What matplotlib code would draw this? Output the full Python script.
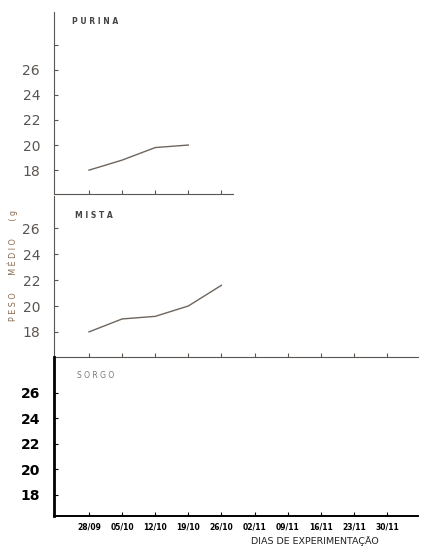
import matplotlib
matplotlib.use("Agg")
import matplotlib.pyplot as plt

dates = ["28/09", "05/10", "12/10", "19/10", "26/10", "02/11", "09/11", "16/11", "23/11", "30/11"]
purina = [18.0, 18.8, 19.8, 20.0]
mista = [18.0, 19.0, 19.2, 20.0, 21.6]
yticks = [18, 20, 22, 24, 26]

W, H = 421, 547
fig = plt.figure(figsize=(W / 100, H / 100), dpi=100)

def px(l, r, top, bot):
    return [l / W, 1 - bot / H, (r - l) / W, (bot - top) / H]

# x mapping: index 0 at x=89 px, 33.1 px per step
def xlim_for(l, r):
    return ((l - 89) / 33.1, (r - 89) / 33.1)

gray = "#5a5550"
linec = "#6e655d"

ax1 = fig.add_axes(px(54, 233, 12, 194))
ax2 = fig.add_axes(px(54, 418, 196, 357))
ax3 = fig.add_axes(px(54, 418, 357, 516))

for ax, (l, r), yl in [(ax1, (54, 233), (16.1, 30.6)),
                        (ax2, (54, 418), (16.06, 28.5)),
                        (ax3, (54, 418), (16.35, 28.8))]:
    ax.set_xlim(*xlim_for(l, r))
    ax.set_ylim(*yl)
    ax.patch.set_alpha(0)
    for s in ["top", "right"]:
        ax.spines[s].set_visible(False)
    ax.set_yticks(yticks)
    ax.tick_params(axis="both", direction="in", length=3, width=0.8)
    ax.tick_params(axis="y", pad=10)

for ax in (ax1, ax2):
    ax.spines["left"].set_color(gray)
    ax.spines["bottom"].set_color(gray)
    ax.tick_params(colors=gray, labelsize=10)
    ax.set_yticklabels([str(v) for v in yticks], color=gray, fontsize=10)

ax1.set_xticks(range(5))
ax1.set_xticklabels([])
ax2.set_xticks(range(len(dates)))
ax2.set_xticklabels([])
ax1.set_yticks(yticks + [28])
ax1.set_yticklabels([str(v) for v in yticks] + [""], color=gray, fontsize=10)

ax1.plot(range(len(purina)), purina, color=linec, lw=1)
ax2.plot(range(len(mista)), mista, color=linec, lw=1)

ax3.spines["left"].set_linewidth(2)
ax3.spines["left"].set_color("black")
ax3.spines["bottom"].set_linewidth(1.4)
ax3.spines["bottom"].set_color("black")
ax3.set_yticklabels([str(v) for v in yticks], fontsize=10, fontweight="bold", color="black")
ax3.set_xticks(range(len(dates)))
ax3.set_xticklabels(dates, fontsize=5.5, fontweight="bold", color="black")
ax3.tick_params(axis="x", pad=5)

fig.text(72 / W, 1 - 22 / H, "P U R I N A", fontsize=5.5, color="#444", va="center", fontweight="bold")
fig.text(75 / W, 1 - 216 / H, "M I S T A", fontsize=5.5, color="#444", va="center", fontweight="bold")
fig.text(77 / W, 1 - 376 / H, "S O R G O", fontsize=5.5, color="#777", va="center")

fig.text(315 / W, 1 - 541 / H, "DIAS DE EXPERIMENTAÇÃO", fontsize=6.8, color="#222",
         ha="center", va="center")
fig.text(13 / W, 1 - 265 / H, "P E S O       M É D I O       ( g", fontsize=5.8, color="#8a6a50",
         rotation=90, ha="center", va="center")

fig.savefig("out.png", dpi=100)
